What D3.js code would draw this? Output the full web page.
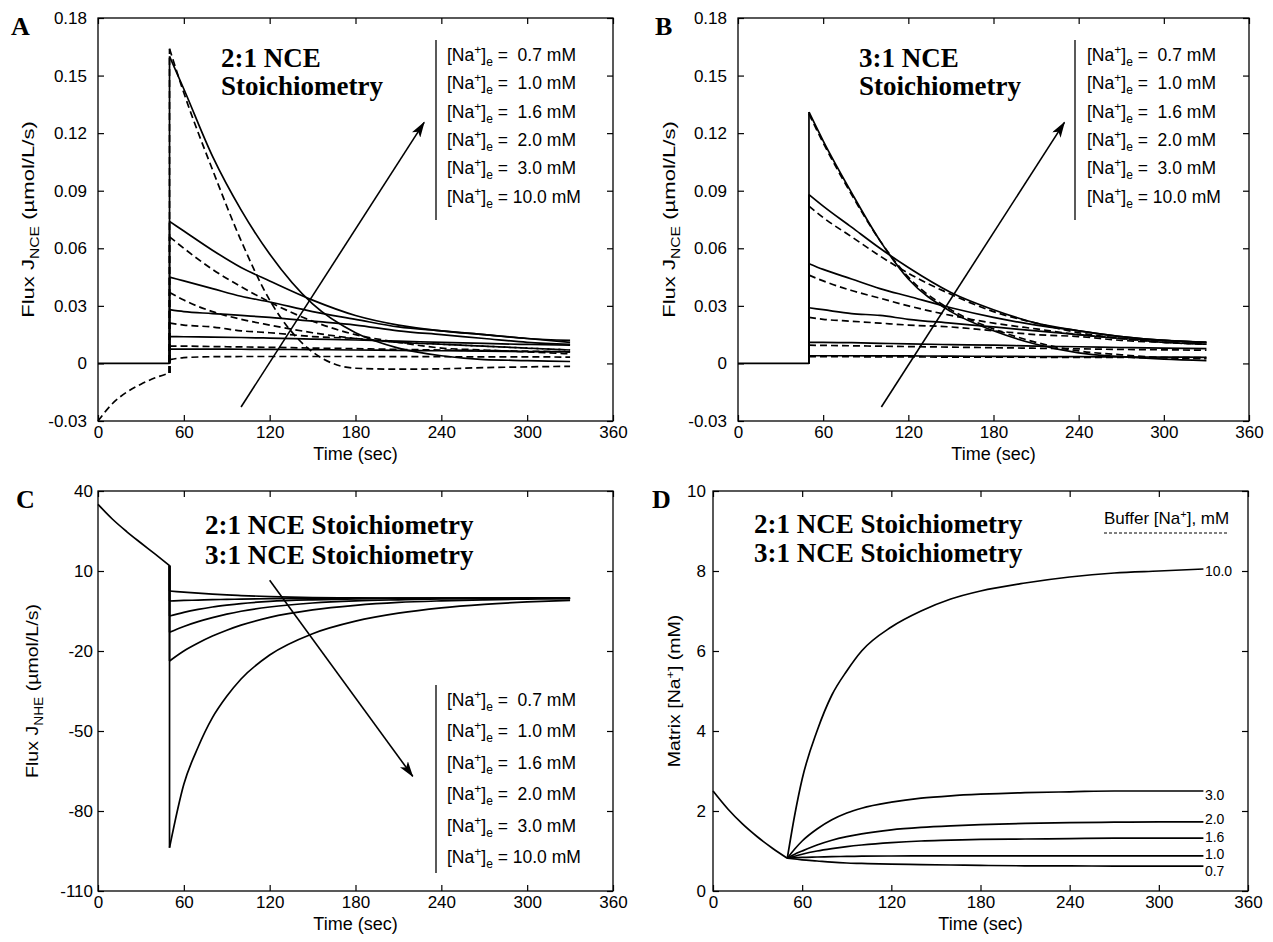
<!DOCTYPE html>
<html>
<head>
<meta charset="utf-8">
<script src="https://cdn.jsdelivr.net/npm/d3@7"></script>
<style>
  body { margin: 0; background: #fff; }
  svg text { font-family: "Liberation Sans", Arial, Helvetica, sans-serif; fill: #000; }
  svg text.serif { font-family: "Liberation Serif", "Times New Roman", serif; font-weight: bold; }
</style>
</head>
<body>
<svg id="fig" width="1273" height="942"></svg>
<script>
const width = 1273;
const height = 942;

// shared time grids (sec)
const xTicks = [0, 60, 120, 180, 240, 300, 360];
const tPre = [0, 10, 20, 30, 40, 50];
const tPost = [50, 60, 80, 100, 120, 150, 180, 210, 240, 270, 300, 330];
const naLevels = ["0.7", "1.0", "1.6", "2.0", "3.0", "10.0"];

// panel A: J_NCE, 2:1 stoichiometry (umol/L/s), rows follow naLevels
const aPreSolid = [0, 0, 0, 0, 0, 0];
const aPreDashed = [-0.03, -0.021, -0.015, -0.0108, -0.0075, -0.005];
const aSolid = [
  [0.0075, 0.0075, 0.0075, 0.0074, 0.0073, 0.0072, 0.0070, 0.0068, 0.0066, 0.0064, 0.0062, 0.0060],
  [0.014, 0.0139, 0.0137, 0.0135, 0.0132, 0.0127, 0.0122, 0.0116, 0.0110, 0.0104, 0.0099, 0.0095],
  [0.028, 0.027, 0.026, 0.025, 0.024, 0.022, 0.020, 0.017, 0.015, 0.013, 0.011, 0.010],
  [0.045, 0.043, 0.039, 0.035, 0.032, 0.027, 0.023, 0.019, 0.017, 0.015, 0.013, 0.011],
  [0.074, 0.069, 0.059, 0.050, 0.043, 0.033, 0.025, 0.020, 0.017, 0.015, 0.013, 0.012],
  [0.160, 0.143, 0.108, 0.080, 0.057, 0.031, 0.016, 0.008, 0.004, 0.002, 0.0015, 0.001]
];
const aDashed = [
  [0.002, 0.003, 0.0035, 0.0036, 0.0036, 0.0036, 0.0036, 0.0035, 0.0035, 0.0034, 0.0034, 0.0033],
  [0.009, 0.009, 0.0088, 0.0086, 0.0084, 0.008, 0.0077, 0.0073, 0.007, 0.0067, 0.0064, 0.006],
  [0.021, 0.020, 0.019, 0.017, 0.016, 0.014, 0.013, 0.011, 0.010, 0.009, 0.008, 0.007],
  [0.037, 0.033, 0.027, 0.023, 0.020, 0.016, 0.013, 0.011, 0.010, 0.009, 0.008, 0.007],
  [0.066, 0.060, 0.049, 0.040, 0.032, 0.022, 0.015, 0.011, 0.008, 0.007, 0.006, 0.005],
  [0.164, 0.141, 0.101, 0.064, 0.033, 0.006, -0.0025, -0.003, -0.0028, -0.0022, -0.0018, -0.0015]
];

// panel B: J_NCE, 3:1 stoichiometry
const bPre = [0, 0, 0, 0, 0, 0];
const bSolid = [
  [0.004, 0.004, 0.004, 0.0039, 0.0039, 0.0038, 0.0037, 0.0036, 0.0035, 0.0034, 0.0033, 0.0032],
  [0.011, 0.011, 0.0108, 0.0105, 0.0102, 0.0098, 0.0095, 0.009, 0.0087, 0.0083, 0.008, 0.0077],
  [0.029, 0.028, 0.026, 0.025, 0.023, 0.021, 0.019, 0.017, 0.015, 0.013, 0.012, 0.011],
  [0.052, 0.049, 0.044, 0.039, 0.035, 0.029, 0.024, 0.020, 0.017, 0.014, 0.012, 0.011],
  [0.088, 0.082, 0.071, 0.060, 0.050, 0.037, 0.028, 0.021, 0.017, 0.014, 0.012, 0.011],
  [0.131, 0.116, 0.089, 0.064, 0.044, 0.027, 0.017, 0.010, 0.0055, 0.0035, 0.0022, 0.0015]
];
const bDashed = [
  [0.0035, 0.0035, 0.0035, 0.0034, 0.0034, 0.0033, 0.0033, 0.0032, 0.0031, 0.0031, 0.003, 0.003],
  [0.0095, 0.0094, 0.0092, 0.009, 0.0088, 0.0085, 0.0082, 0.0079, 0.0076, 0.0073, 0.0071, 0.0069],
  [0.024, 0.023, 0.022, 0.021, 0.020, 0.019, 0.017, 0.015, 0.014, 0.012, 0.011, 0.010],
  [0.046, 0.043, 0.038, 0.034, 0.030, 0.025, 0.021, 0.018, 0.015, 0.013, 0.011, 0.010],
  [0.082, 0.076, 0.066, 0.056, 0.047, 0.036, 0.027, 0.021, 0.016, 0.013, 0.011, 0.010],
  [0.130, 0.115, 0.088, 0.064, 0.045, 0.028, 0.018, 0.011, 0.0065, 0.0045, 0.003, 0.0025]
];

// panel C: J_NHE (umol/L/s)
const tC = [50, 60, 70, 80, 90, 100, 120, 150, 180, 210, 240, 270, 300, 330];
const cPre = [35, 29.5, 24.8, 20.5, 16.3, 12];
const cCurves = [
  [2.5, 2.1, 1.7, 1.35, 1.05, 0.8, 0.4, 0.05, -0.1, -0.2, -0.2, -0.2, -0.2, -0.2],
  [-1.25, -1.05, -0.9, -0.75, -0.65, -0.55, -0.4, -0.3, -0.25, -0.2, -0.2, -0.2, -0.2, -0.2],
  [-6.9, -5.5, -4.4, -3.5, -2.8, -2.2, -1.4, -0.8, -0.5, -0.35, -0.3, -0.25, -0.2, -0.2],
  [-13, -10.8, -9, -7.5, -6.2, -5.1, -3.5, -2.0, -1.2, -0.8, -0.5, -0.35, -0.3, -0.25],
  [-23.75, -20, -17, -14.4, -12.2, -10.3, -7.4, -4.6, -2.9, -1.8, -1.2, -0.8, -0.55, -0.4],
  [-93.75, -70, -56, -45, -37, -30.5, -21.5, -13.5, -8.8, -5.8, -3.8, -2.5, -1.6, -1.0]
];

// panel D: matrix [Na+] (mM)
const tD = [50, 55, 60, 70, 80, 90, 100, 120, 140, 160, 180, 210, 240, 270, 300, 330];
const dPre = [2.5, 2.05, 1.67, 1.35, 1.07, 0.82];
const dCurves = [
  [0.82, 0.8, 0.78, 0.75, 0.72, 0.7, 0.69, 0.67, 0.66, 0.65, 0.64, 0.63, 0.63, 0.62, 0.62, 0.62],
  [0.82, 0.83, 0.84, 0.85, 0.86, 0.865, 0.87, 0.875, 0.88, 0.88, 0.88, 0.88, 0.88, 0.88, 0.88, 0.88],
  [0.82, 0.87, 0.92, 1.0, 1.06, 1.11, 1.15, 1.21, 1.25, 1.27, 1.29, 1.3, 1.31, 1.32, 1.32, 1.32],
  [0.82, 0.92, 1.0, 1.15, 1.27, 1.36, 1.43, 1.53, 1.59, 1.63, 1.66, 1.69, 1.71, 1.72, 1.73, 1.73],
  [0.82, 1.05, 1.25, 1.55, 1.78, 1.95, 2.07, 2.22, 2.32, 2.38, 2.42, 2.46, 2.48, 2.5, 2.5, 2.5],
  [0.82, 1.9, 2.8, 4.0, 4.9, 5.5, 6.0, 6.6, 7.0, 7.3, 7.5, 7.7, 7.85, 7.95, 8.0, 8.05]
];
const dLabelY = [0.49, 0.92, 1.35, 1.8, 2.4, 8.0];

const yTicksAB = [-0.03, 0, 0.03, 0.06, 0.09, 0.12, 0.15, 0.18];
const yTicksC = [-110, -80, -50, -20, 10, 40];
const yTicksD = [0, 2, 4, 6, 8, 10];

const svg = d3.select("#fig");

const panels = {
  A: { x0: 98, x1: 613, y0: 18, y1: 421, pad: 11 },
  B: { x0: 738, x1: 1249, y0: 18, y1: 421, pad: 11 },
  C: { x0: 98, x1: 613, y0: 491, y1: 891, pad: 5 },
  D: { x0: 713, x1: 1248, y0: 491, y1: 891, pad: 7 }
};

svg.append("defs").append("marker")
  .attr("id", "arrow")
  .attr("markerUnits", "userSpaceOnUse")
  .attr("viewBox", "0 0 16 10")
  .attr("refX", 15).attr("refY", 5)
  .attr("markerWidth", 16).attr("markerHeight", 10)
  .attr("orient", "auto")
  .append("path")
    .attr("d", "M0,0 L16,5 L0,10 L4,5 Z")
    .attr("fill", "#000");

// MATLAB style labels use a plain hyphen for negatives
function fmtFlux(d) {
  return d === 0 ? "0" : d.toFixed(2);
}
function fmtInt(d) {
  return String(d);
}

function makePanel(p, yDomain, yTicks, yFmt) {
  const x = d3.scaleLinear().domain([0, 360]).range([p.x0, p.x1]);
  const y = d3.scaleLinear().domain(yDomain).range([p.y1, p.y0]);
  const g = svg.append("g");

  const styleAxis = sel => {
    sel.select(".domain").remove();
    sel.attr("font-size", 17).attr("font-family", null);
    sel.selectAll("line").attr("stroke", "#000").attr("stroke-width", 1.2);
  };

  g.append("g")
    .attr("transform", `translate(0,${p.y1})`)
    .call(d3.axisBottom(x).tickValues(xTicks).tickSizeInner(-6).tickSizeOuter(0).tickPadding(5).tickFormat(fmtInt))
    .call(styleAxis);
  g.append("g")
    .attr("transform", `translate(0,${p.y0})`)
    .call(d3.axisTop(x).tickValues(xTicks).tickSizeInner(-6).tickSizeOuter(0).tickFormat(""))
    .call(styleAxis);
  g.append("g")
    .attr("transform", `translate(${p.x0},0)`)
    .call(d3.axisLeft(y).tickValues(yTicks).tickSizeInner(-6).tickSizeOuter(0).tickPadding(p.pad).tickFormat(yFmt))
    .call(styleAxis);
  g.append("g")
    .attr("transform", `translate(${p.x1},0)`)
    .call(d3.axisRight(y).tickValues(yTicks).tickSizeInner(-6).tickSizeOuter(0).tickFormat(""))
    .call(styleAxis);

  g.append("rect")
    .attr("x", p.x0).attr("y", p.y0)
    .attr("width", p.x1 - p.x0).attr("height", p.y1 - p.y0)
    .attr("fill", "none").attr("stroke", "#000").attr("stroke-width", 1.3);

  g.append("text")
    .attr("x", (p.x0 + p.x1) / 2).attr("y", p.y1 + 39)
    .attr("text-anchor", "middle").attr("font-size", 18)
    .text("Time (sec)");

  return { g, x, y };
}

function drawLine(g, xs, ys, x, y, dashed, curve) {
  const line = d3.line()
    .x((d, i) => x(xs[i]))
    .y(d => y(d))
    .curve(curve || d3.curveMonotoneX);
  g.append("path")
    .datum(ys)
    .attr("d", line)
    .attr("fill", "none")
    .attr("stroke", "#000")
    .attr("stroke-width", 1.7)
    .attr("stroke-dasharray", dashed ? "7,4" : null);
}

function drawJump(g, t, from, to, x, y, dashed) {
  g.append("line")
    .attr("x1", x(t)).attr("x2", x(t))
    .attr("y1", y(from)).attr("y2", y(to))
    .attr("stroke", "#000").attr("stroke-width", 1.7)
    .attr("stroke-dasharray", dashed ? "7,4" : null);
}

// rotated axis title, stretched along its length like the scanned figure
function yTitle(xPos, p, stretch, parts) {
  const t = svg.append("text")
    .attr("transform", `translate(${xPos},${(p.y0 + p.y1) / 2}) rotate(-90) scale(${stretch},1)`)
    .attr("text-anchor", "middle")
    .attr("font-size", 17);
  parts.forEach(pt => {
    t.append("tspan")
      .attr("font-size", pt.size || 17)
      .attr("dy", pt.dy || 0)
      .text(pt.text);
  });
}

function legend(g, lineX, textX, yTop, yBot, rowStart, rowStep) {
  g.append("line")
    .attr("x1", lineX).attr("x2", lineX)
    .attr("y1", yTop).attr("y2", yBot)
    .attr("stroke", "#000").attr("stroke-width", 1.3);
  naLevels.forEach((lv, i) => {
    const t = g.append("text")
      .attr("x", textX).attr("y", rowStart + i * rowStep)
      .attr("font-size", 17.5)
      .style("white-space", "pre");
    t.append("tspan").text("[Na");
    t.append("tspan").attr("font-size", 12).attr("dy", -7).text("+");
    t.append("tspan").attr("dy", 7).text("]");
    t.append("tspan").attr("font-size", 12).attr("dy", 5).text("e");
    t.append("tspan").attr("dy", -5).text(lv.length > 3 ? " = " + lv + " mM" : " =  " + lv + " mM");
  });
}

function title(x, y1, y2, l1, l2) {
  [l1, l2].forEach((s, i) => {
    svg.append("text").attr("class", "serif")
      .attr("x", x).attr("y", i ? y2 : y1)
      .attr("font-size", 27)
      .text(s);
  });
}

function arrow(g, x, y, t0, v0, t1, v1) {
  g.append("line")
    .attr("x1", x(t0)).attr("y1", y(v0))
    .attr("x2", x(t1)).attr("y2", y(v1))
    .attr("stroke", "#000").attr("stroke-width", 1.6)
    .attr("marker-end", "url(#arrow)");
}

function panelLetter(s, x, y) {
  svg.append("text").attr("class", "serif")
    .attr("x", x).attr("y", y).attr("font-size", 26).text(s);
}

// ---- A ----
{
  const { g, x, y } = makePanel(panels.A, [-0.03, 0.18], yTicksAB, fmtFlux);
  drawLine(g, tPre, aPreSolid, x, y, false, d3.curveLinear);
  drawLine(g, tPre, aPreDashed, x, y, true);
  aSolid.forEach(s => {
    drawJump(g, 50, aPreSolid[5], s[0], x, y, false);
    drawLine(g, tPost, s, x, y, false);
  });
  aDashed.forEach(s => {
    drawJump(g, 50, aPreDashed[5], s[0], x, y, true);
    drawLine(g, tPost, s, x, y, true);
  });
  legend(g, 436, 447, 40, 220, 61, 28.3);
  arrow(g, x, y, 100, -0.0227, 228, 0.1256);
  title(221, 67, 95, "2:1 NCE", "Stoichiometry");
  yTitle(34, panels.A, 1.3, [{ text: "Flux J" }, { text: "NCE", size: 12, dy: 5 }, { text: " (µmol/L/s)", dy: -5 }]);
  panelLetter("A", 11, 35);
}

// ---- B ----
{
  const { g, x, y } = makePanel(panels.B, [-0.03, 0.18], yTicksAB, fmtFlux);
  drawLine(g, tPre, bPre, x, y, false, d3.curveLinear);
  bSolid.forEach(s => {
    drawJump(g, 50, bPre[5], s[0], x, y, false);
    drawLine(g, tPost, s, x, y, false);
  });
  bDashed.forEach(s => drawLine(g, tPost, s, x, y, true));
  legend(g, 1075, 1087, 40, 220, 61, 28.3);
  arrow(g, x, y, 101, -0.0227, 230, 0.1256);
  title(859, 67, 95, "3:1 NCE", "Stoichiometry");
  yTitle(675, panels.B, 1.3, [{ text: "Flux J" }, { text: "NCE", size: 12, dy: 5 }, { text: " (µmol/L/s)", dy: -5 }]);
  panelLetter("B", 655, 35);
}

// ---- C ----
{
  const { g, x, y } = makePanel(panels.C, [-110, 40], yTicksC, fmtInt);
  drawLine(g, tPre, cPre, x, y, false);
  cCurves.forEach(s => {
    drawJump(g, 50, cPre[5], s[0], x, y, false);
    drawLine(g, tC, s, x, y, false);
  });
  legend(g, 436, 447, 685, 873, 706, 31.4);
  arrow(g, x, y, 120, 6.5, 220, -67);
  title(205, 534, 564, "2:1 NCE Stoichiometry", "3:1 NCE Stoichiometry");
  yTitle(38, panels.C, 1.15, [{ text: "Flux J" }, { text: "NHE", size: 12, dy: 5 }, { text: " (µmol/L/s)", dy: -5 }]);
  panelLetter("C", 16, 508);
}

// ---- D ----
{
  const { g, x, y } = makePanel(panels.D, [0, 10], yTicksD, fmtInt);
  drawLine(g, tPre, dPre, x, y, false);
  dCurves.forEach(s => drawLine(g, tD, s, x, y, false));
  naLevels.forEach((lv, i) => {
    g.append("text")
      .attr("x", x(331)).attr("y", y(dLabelY[i]))
      .attr("dy", "0.36em")
      .attr("font-size", 14)
      .text(lv);
  });
  const bt = g.append("text").attr("x", 1104).attr("y", 524).attr("font-size", 17);
  bt.append("tspan").text("Buffer [Na");
  bt.append("tspan").attr("font-size", 11).attr("dy", -6).text("+");
  bt.append("tspan").attr("dy", 6).text("], mM");
  g.append("line")
    .attr("x1", 1104).attr("x2", 1228).attr("y1", 533).attr("y2", 533)
    .attr("stroke", "#000").attr("stroke-width", 1).attr("stroke-dasharray", "3,2");
  title(754, 533, 562, "2:1 NCE Stoichiometry", "3:1 NCE Stoichiometry");
  yTitle(680, panels.D, 1.15, [{ text: "Matrix [Na" }, { text: "+", size: 11, dy: -6 }, { text: "] (mM)", dy: 6 }]);
  panelLetter("D", 652, 508);
}
</script>
</body>
</html>
